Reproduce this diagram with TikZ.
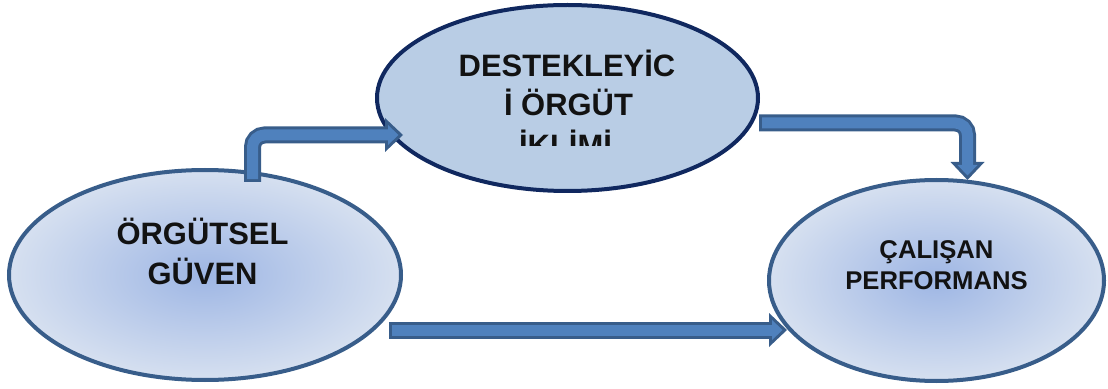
\documentclass[tikz,border=0pt]{standalone}
\usetikzlibrary{shapes.geometric,arrows.meta}
\usepackage{fontspec}
\setmainfont{Liberation Sans}
\definecolor{edgeblue}{HTML}{385D8A}
\definecolor{navy}{HTML}{10285F}
\definecolor{arrowblue}{HTML}{4F81BD}
\definecolor{paleblue}{HTML}{B9CDE5}
\definecolor{innerblue}{HTML}{9EB6E4}
\definecolor{outerblue}{HTML}{D6E0F0}

\begin{document}
\begin{tikzpicture}[
  bubble/.style={ellipse,draw=edgeblue,line width=0.08cm,inner sep=0pt,outer sep=0pt},
  glow/.style={inner color=innerblue,outer color=outerblue},
  lbl/.style={anchor=base,inner sep=0pt,text=black!93,font=\bfseries\fontsize{17.6}{20}\selectfont},
  smalllbl/.style={lbl,font=\bfseries\fontsize{14.6}{18}\selectfont},
  blockarrow/.style={line width=0.22cm,draw=arrowblue,
    -{Triangle[length=0.21cm,width=0.40cm,line width=0pt]},
    shorten <=0.06cm,shorten >=0.09cm,rounded corners=0.24cm,
    preaction={draw=edgeblue,line width=0.34cm,
      -{Triangle[length=0.36cm,width=0.68cm,line width=0pt]},
      shorten <=0pt,shorten >=0pt}}]
\useasboundingbox (0,0) rectangle (22.16,7.76);
% ellipses
\node[bubble,glow,minimum width=7.84cm,minimum height=4.2cm] (guven) at (4.10,2.26) {};
\node[bubble,draw=navy,fill=paleblue,minimum width=7.62cm,minimum height=3.72cm] (iklim) at (11.35,5.80) {};
\node[bubble,glow,minimum width=6.7cm,minimum height=4.02cm] (perf) at (18.73,2.15) {};
% labels
\node[lbl] (guven1) at (4.05,2.86) {ÖRGÜTSEL};
\node[lbl] (guven2) at (4.05,2.08) {GÜVEN};
\node[lbl] (iklim1) at (11.34,6.226) {DESTEKLEYİC};
\node[lbl] (iklim2) at (11.37,5.44) {İ ÖRGÜT};
\begin{scope}
  \clip (9.5,4.84) rectangle (13.2,5.5);
  \node[lbl] (iklim3) at (11.31,4.62) {İKLİMİ};
\end{scope}
\node[smalllbl] (perf1) at (18.73,2.594) {ÇALIŞAN};
\node[smalllbl] (perf2) at (18.73,1.96) {PERFORMANS};
% arrows
\coordinate (a1) at ([xshift=0.95cm,yshift=-0.24cm]guven.north);
\coordinate (b1) at ([xshift=0.52cm,yshift=-0.74cm]iklim.west);
\draw[blockarrow] (a1) |- (b1);
\coordinate (a2) at ([xshift=0.02cm,yshift=-0.50cm]iklim.east);
\coordinate (b2) at ([xshift=0.62cm]perf.north);
\draw[blockarrow] (a2) -| (b2);
\coordinate (a3) at ([xshift=-0.24cm,yshift=-1.10cm]guven.east);
\coordinate (b3) at ([xshift=0.36cm,yshift=-0.99cm]perf.west);
\draw[blockarrow] (a3) -- (b3);
\end{tikzpicture}
\end{document}
